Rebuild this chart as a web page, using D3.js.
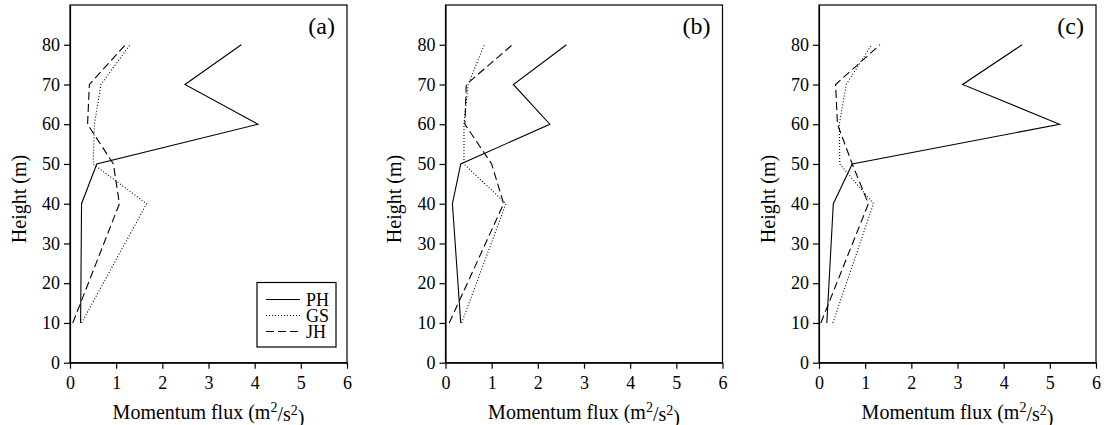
<!DOCTYPE html>
<html>
<head>
<meta charset="utf-8">
<script src="https://cdn.jsdelivr.net/npm/d3@7"></script>
<style>
  html, body { margin: 0; padding: 0; background: #fff; overflow: hidden; }
  svg { display: block; }
</style>
</head>
<body>
<div id="chart"></div>
<script>
// measurement heights (m)
var heights = [10, 40, 50, 60, 70, 80];

// momentum flux values, one list per panel and site
var phA = [0.23, 0.25, 0.58, 4.07, 2.49, 3.71];
var gsA = [0.25, 1.66, 0.50, 0.53, 0.67, 1.30];
var jhA = [0.06, 1.07, 0.94, 0.38, 0.42, 1.20];

var phB = [0.33, 0.15, 0.33, 2.26, 1.47, 2.62];
var gsB = [0.35, 1.31, 0.40, 0.40, 0.49, 0.84];
var jhB = [0.08, 1.26, 1.00, 0.42, 0.45, 1.45];

var phC = [0.17, 0.31, 0.72, 5.21, 3.11, 4.40];
var gsC = [0.30, 1.18, 0.45, 0.44, 0.59, 1.14];
var jhC = [0.04, 1.07, 0.72, 0.40, 0.36, 1.32];

var panelLabels = ['(a)', '(b)', '(c)'];
var seriesNames = ['PH', 'GS', 'JH'];
var xTicks = [0, 1, 2, 3, 4, 5, 6];
var yTicks = [0, 10, 20, 30, 40, 50, 60, 70, 80];

var panels = [
  [phA, gsA, jhA],
  [phB, gsB, jhB],
  [phC, gsC, jhC]
];

// dash style per series: solid, dotted, dashed
var dashes = [null, '1,2', '8,4'];

var font = '"Liberation Serif", "Times New Roman", serif';

var outerWidth = 1104, outerHeight = 425;
var panelLeft = [70, 445.5, 819];
var panelTop = 5;
var innerWidth = 277;
var innerHeight = 357.7;

var svg = d3.select('#chart').append('svg')
  .attr('width', outerWidth)
  .attr('height', outerHeight)
  .attr('font-family', font);

var x = d3.scaleLinear().domain([0, 6]).range([0, innerWidth]);
var y = d3.scaleLinear().domain([0, 90]).range([innerHeight, 0]);

var line = d3.line()
  .x(function(d) { return x(d.value); })
  .y(function(d) { return y(d.height); });

panels.forEach(function(series, p) {
  var g = svg.append('g')
    .attr('transform', 'translate(' + panelLeft[p] + ',' + panelTop + ')');

  // frame
  g.append('rect')
    .attr('x', 0).attr('y', 0)
    .attr('width', innerWidth).attr('height', innerHeight)
    .attr('fill', 'none')
    .attr('stroke', '#000')
    .attr('stroke-width', 1.2);

  // x axis
  var xa = g.append('g')
    .attr('transform', 'translate(0,' + innerHeight + ')')
    .call(d3.axisBottom(x).tickValues(xTicks).tickSize(6).tickSizeOuter(0).tickPadding(6)
      .tickFormat(d3.format('d')))
    .attr('font-family', font)
    .attr('font-size', 18);
  xa.select('.domain').attr('stroke-width', 1.2);
  xa.selectAll('.tick line').attr('stroke-width', 1.2);
  xa.selectAll('text').attr('dy', '0.78em');

  // y axis
  var ya = g.append('g')
    .call(d3.axisLeft(y).tickValues(yTicks).tickSize(6).tickSizeOuter(0).tickPadding(4)
      .tickFormat(d3.format('d')))
    .attr('font-family', font)
    .attr('font-size', 18);
  ya.select('.domain').attr('stroke-width', 1.2);
  ya.selectAll('.tick line').attr('stroke-width', 1.2);

  // data lines
  series.forEach(function(vals, s) {
    var data = heights.map(function(h, i) { return {height: h, value: vals[i]}; });
    g.append('path')
      .datum(data)
      .attr('d', line)
      .attr('fill', 'none')
      .attr('stroke', '#000')
      .attr('stroke-width', 1.1)
      .attr('stroke-dasharray', dashes[s]);
  });

  // panel label
  g.append('text')
    .attr('x', innerWidth - 12)
    .attr('y', 29)
    .attr('text-anchor', 'end')
    .attr('font-size', 24)
    .text(panelLabels[p]);

  // y title
  g.append('text')
    .attr('transform', 'translate(-44.5,' + (199 - panelTop) + ') rotate(-90)')
    .attr('text-anchor', 'middle')
    .attr('font-size', 20)
    .text('Height (m)');

  // x title
  var xt = g.append('text')
    .attr('x', innerWidth / 2)
    .attr('y', 418.5 - panelTop)
    .attr('text-anchor', 'middle')
    .attr('font-size', 20);
  xt.append('tspan').text('Momentum flux (m');
  xt.append('tspan').attr('dy', '-0.45em').attr('font-size', 14).text('2');
  xt.append('tspan').attr('dy', '0.45em').text('/s');
  xt.append('tspan').attr('dy', '-0.45em').attr('font-size', 14).text('2');
  xt.append('tspan').attr('dy', '0.45em').text(')');

  // legend only in first panel
  if (p === 0) {
    var lg = g.append('g').attr('transform', 'translate(' + (257 - panelLeft[0]) + ',' + (282.5 - panelTop) + ')');
    lg.append('rect')
      .attr('width', 79).attr('height', 64.5)
      .attr('fill', '#fff')
      .attr('stroke', '#000')
      .attr('stroke-width', 1.2);
    seriesNames.forEach(function(name, s) {
      var ly = 17 + s * 16;
      lg.append('line')
        .attr('x1', 9).attr('x2', 43)
        .attr('y1', ly).attr('y2', ly)
        .attr('stroke', '#000')
        .attr('stroke-width', 1.1)
        .attr('stroke-dasharray', dashes[s]);
      lg.append('text')
        .attr('x', 49).attr('y', ly)
        .attr('dy', '0.35em')
        .attr('font-size', 18)
        .text(name);
    });
  }
});
</script>
</body>
</html>
